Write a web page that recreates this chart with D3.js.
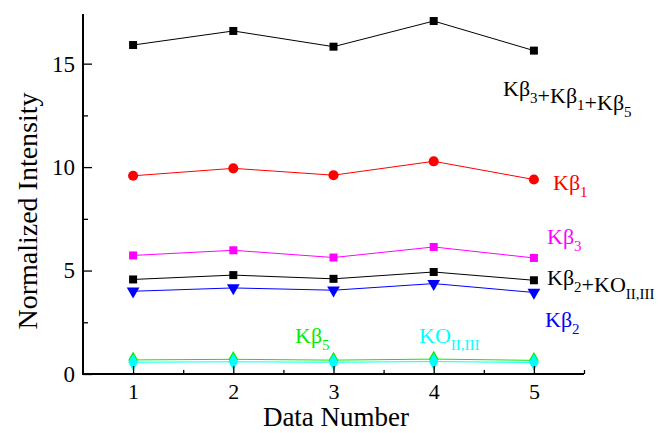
<!DOCTYPE html>
<html lang="en">
<head>
<meta charset="utf-8">
<title>Normalized Intensity</title>
<script src="https://d3js.org/d3.v7.min.js"></script>
<style>
  body { margin: 0; background: #fff; }
  text { font-family: "Liberation Serif", "Times New Roman", serif; }
</style>
</head>
<body>
<div id="chart"></div>
<script>
// data
var dataNumber = [1, 2, 3, 4, 5];
var kbSum   = [15.90, 16.58, 15.82, 17.06, 15.63];   // Kb3+Kb1+Kb5
var kb1     = [9.58, 9.94, 9.61, 10.28, 9.40];
var kb3     = [5.73, 5.98, 5.63, 6.14, 5.61];
var kb2ko   = [4.57, 4.78, 4.60, 4.93, 4.53];        // Kb2+KO II,III
var kb2     = [4.00, 4.16, 4.05, 4.37, 3.94];
var kb5     = [0.68, 0.71, 0.67, 0.72, 0.66];
var koII    = [0.57, 0.59, 0.57, 0.60, 0.56];
var xTicks = [1, 2, 3, 4, 5];
var yTicks = [0, 5, 10, 15];

var width = 659, height = 433;
var svg = d3.select("#chart").append("svg")
    .attr("width", width)
    .attr("height", height);

var x = d3.scaleLinear().domain([0.5, 5.5]).range([83, 584]);
var y = d3.scaleLinear().domain([0, 17.4]).range([374, 14]);

var series = [
    { values: kbSum, color: "#000000", marker: "square" },
    { values: kb1,   color: "#ff0000", marker: "circle" },
    { values: kb3,   color: "#ff00ff", marker: "square" },
    { values: kb2ko, color: "#000000", marker: "square" },
    { values: kb2,   color: "#0000ff", marker: "triangle" },
    { values: kb5,   color: "#00ee00", marker: "diamond" },
    { values: koII,  color: "#00ffff", marker: "diamond" }
];

var symbols = {
    square: d3.symbol().type(d3.symbolSquare).size(64),
    circle: d3.symbol().type(d3.symbolCircle).size(80),
    triangle: d3.symbol().type(d3.symbolTriangle).size(70),
    diamond: d3.symbol().type(d3.symbolDiamond).size(80)
};

var line = d3.line()
    .x(function(d, i) { return x(dataNumber[i]); })
    .y(function(d) { return y(d); });

var g = svg.append("g");

series.forEach(function(s) {
    g.append("path")
        .attr("d", line(s.values))
        .attr("fill", "none")
        .attr("stroke", s.color)
        .attr("stroke-width", 1);

    g.selectAll(null)
        .data(s.values)
        .enter()
        .append("path")
        .attr("d", symbols[s.marker])
        .attr("fill", s.color)
        .attr("transform", function(d, i) {
            var rot = s.marker == "triangle" ? " rotate(180)" : "";
            return "translate(" + x(dataNumber[i]) + "," + y(d) + ")" + rot;
        });
});

// axes, ticks pointing inwards
var xAxis = d3.axisBottom(x)
    .tickValues(d3.range(1, 5.51, 0.5))
    .tickSize(-4)
    .tickFormat(function(d) { return xTicks.indexOf(d) >= 0 ? d : ""; });

var gx = svg.append("g")
    .attr("transform", "translate(0," + y(0) + ")")
    .call(xAxis);
gx.selectAll(".tick line")
    .attr("y2", function(d) { return xTicks.indexOf(d) >= 0 ? -8 : -4; })
    .attr("stroke-width", 1.3);
gx.selectAll(".tick text")
    .attr("y", 9)
    .attr("font-size", 22)
    .attr("font-family", "Liberation Serif");

var yAxis = d3.axisLeft(y)
    .tickValues(d3.range(0, 17.4, 2.5))
    .tickSize(-4)
    .tickFormat(function(d) { return yTicks.indexOf(d) >= 0 ? d : ""; });

var gy = svg.append("g")
    .attr("transform", "translate(" + x(0.5) + ",0)")
    .call(yAxis);
gy.selectAll(".tick line")
    .attr("x2", function(d) { return yTicks.indexOf(d) >= 0 ? 9 : 5; })
    .attr("stroke-width", 1.3);
gy.selectAll(".tick text")
    .attr("x", -8)
    .attr("font-size", 23)
    .attr("font-family", "Liberation Serif");

[gx, gy].forEach(function(a) {
    a.select(".domain").attr("stroke-width", 2);
    a.attr("fill", null).attr("font-family", null);
});
gx.select(".domain").attr("d", "M" + (x(0.5) - 1) + ",0H" + x(5.5));
gy.select(".domain").attr("d", "M0," + y(17.4) + "V" + (y(0) + 1));

// axis titles
svg.append("text")
    .attr("x", 336)
    .attr("y", 426)
    .attr("text-anchor", "middle")
    .attr("font-size", 27)
    .text("Data Number");

svg.append("text")
    .attr("transform", "translate(37,211) rotate(-90)")
    .attr("text-anchor", "middle")
    .attr("font-size", 28)
    .text("Normalized Intensity");

// series labels with subscripts
function label(px, py, color, parts) {
    var t = svg.append("text")
        .attr("x", px)
        .attr("y", py)
        .attr("fill", color)
        .attr("font-size", 22);
    parts.forEach(function(p) {
        if (p.sub) {
            t.append("tspan").attr("dy", 7).attr("font-size", 15).text(p.sub);
            t.append("tspan").attr("dy", -7).text("");
        } else {
            t.append("tspan").text(p.t);
        }
    });
}

label(503, 96, "#000000", [{t: "Kβ"}, {sub: "3"}, {t: "+Kβ"}, {sub: "1"}, {t: "+Kβ"}, {sub: "5"}]);
label(553, 190, "#ff0000", [{t: "Kβ"}, {sub: "1"}]);
label(547, 244, "#ff00ff", [{t: "Kβ"}, {sub: "3"}]);
label(547, 285, "#000000", [{t: "Kβ"}, {sub: "2"}, {t: "+KO"}, {sub: "II,III"}]);
label(545, 327, "#0000ff", [{t: "Kβ"}, {sub: "2"}]);
label(295, 343, "#00ee00", [{t: "Kβ"}, {sub: "5"}]);
label(419, 343, "#00ffff", [{t: "KO"}, {sub: "II,III"}]);
</script>
</body>
</html>
